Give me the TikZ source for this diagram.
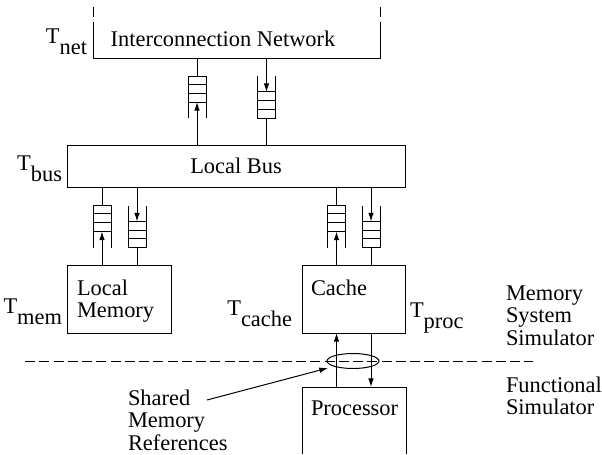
\documentclass[tikz,border=0pt]{standalone}
\usepackage{fontspec}
\setmainfont{Liberation Serif}
\usetikzlibrary{arrows.meta,calc,shapes.geometric}

% timing label: T with a lowered, full-size suffix
\newcommand\tsub[1]{T\raisebox{-8.25pt}{#1}}
% left-aligned stack of lines, baseline at the first line
\newcommand\stackl[1]{\begin{tabular}[t]{@{}l@{}}#1\end{tabular}}
% FIFO drawn upward: closed top, slots filled from the top
\newcommand\upqueue[1]{%
  \draw (#1.south west) -- (#1.north west) -- (#1.north east) -- (#1.south east);
  \foreach \f in {0.2,0.41,0.62}{%
    \draw ($(#1.north west)!\f!(#1.south west)$) -- ($(#1.north east)!\f!(#1.south east)$);}}
% FIFO drawn downward: closed bottom, slots filled from the bottom
\newcommand\downqueue[1]{%
  \draw (#1.north west) -- (#1.south west) -- (#1.south east) -- (#1.north east);
  \foreach \f in {0.38,0.59,0.795}{%
    \draw ($(#1.north west)!\f!(#1.south west)$) -- ($(#1.north east)!\f!(#1.south east)$);}}

\begin{document}
\begin{tikzpicture}[x=0.75pt,y=-0.75pt,line width=0.75pt,
  every node/.style={font=\fontsize{16.8pt}{16.9pt}\selectfont,inner sep=0pt,outer sep=0pt},
  fifo/.style={rectangle,minimum width=13.5pt,minimum height=31.5pt},
  tip/.style={-{Latex[length=6.5pt,width=4.2pt]}}]
\useasboundingbox (0,0) rectangle (602,454);

% main blocks
\node[rectangle,minimum width=215.25pt,minimum height=27pt] (net) at (236.5,40) {};
\node[draw,rectangle,minimum width=253.5pt,minimum height=31.5pt] (bus) at (236,166) {Local Bus};
\node[draw,rectangle,minimum width=78pt,minimum height=51pt] (mem) at (119,299) {};
\node[draw,rectangle,minimum width=77.25pt,minimum height=51pt] (cache) at (353.5,299) {};
\node[rectangle,minimum width=78pt,minimum height=50.25pt] (proc) at (354,420.5) {};

% open outlines of the network and the processor
\draw (net.north west) -- (net.south west) -- (net.south east) -- (net.north east);
\draw ($(net.north west)+(0,-5)$) -- ++(0,-10);
\draw ($(net.north east)+(0,-5)$) -- ++(0,-10);
\draw (proc.south west) -- (proc.north west) -- (proc.north east) -- (proc.south east);

% queues
\node[fifo] (nu) at (197,97) {};
\node[fifo] (nd) at (266.5,97) {};
\node[fifo] (mu) at (102,226.5) {};
\node[fifo] (md) at (137,226.5) {};
\node[fifo] (cu) at (336.5,226.5) {};
\node[fifo] (cd) at (371,226.5) {};
\upqueue{nu}\downqueue{nd}
\upqueue{mu}\downqueue{md}
\upqueue{cu}\downqueue{cd}

% network <-> bus
\draw (net.south -| nu) -- (nu.north);
\draw[tip] (bus.north -| nu) -- ($(nu.north)!0.62!(nu.south)$);
\draw[tip] (net.south -| nd) -- ($(nd.north)!0.38!(nd.south)$);
\draw (nd.south) -- (bus.north -| nd);

% bus <-> local memory
\draw (bus.south -| mu) -- (mu.north);
\draw[tip] (mem.north -| mu) -- ($(mu.north)!0.62!(mu.south)$);
\draw[tip] (bus.south -| md) -- ($(md.north)!0.38!(md.south)$);
\draw (md.south) -- (mem.north -| md);

% bus <-> cache
\draw (bus.south -| cu) -- (cu.north);
\draw[tip] (cache.north -| cu) -- ($(cu.north)!0.62!(cu.south)$);
\draw[tip] (bus.south -| cd) -- ($(cd.north)!0.38!(cd.south)$);
\draw (cd.south) -- (cache.north -| cd);

% cache <-> processor
\draw[tip] (proc.north -| cu) -- (cache.south -| cu);
\draw[tip] (cache.south -| cd) -- (proc.north -| cd);

% simulator boundary
\coordinate (dl) at (25,361);
\coordinate (dr) at (533,361);
\draw[dash pattern=on 7.5pt off 3.2pt] (dl) -- (dr);
\node[draw,ellipse,minimum width=39pt,minimum height=11.25pt] (refs) at (353,361) {};
\coordinate (ptail) at (207,400);
\coordinate (phead) at (328,368);
\draw[tip] (ptail) -- (phead);

% texts
\node[anchor=base] (nettext) at (223,46) {Interconnection Network};
\node[anchor=base west] (memtext) at (77,295) {\stackl{Local\\Memory}};
\node[anchor=base west] (cachetext) at (311,295) {Cache};
\node[anchor=base west] (proctext) at (311,415) {Processor};
\node[anchor=base west] (shared) at (128,405) {\stackl{Shared\\Memory\\References}};
\node[anchor=base west] (mss) at (506,300) {\stackl{Memory\\System\\Simulator}};
\node[anchor=base west] (fs) at (506,392) {\stackl{Functional\\Simulator}};

% timing labels
\node[anchor=base east] (tnet) at (87,43) {\tsub{net}};
\node[anchor=base east] (tbus) at (62,170) {\tsub{bus}};
\node[anchor=base east] (tmem) at (62,313) {\tsub{mem}};
\node[anchor=base east] (tcache) at (292,315) {\tsub{cache}};
\node[anchor=base west] (tproc) at (410,317) {\tsub{proc}};
\end{tikzpicture}
\end{document}
